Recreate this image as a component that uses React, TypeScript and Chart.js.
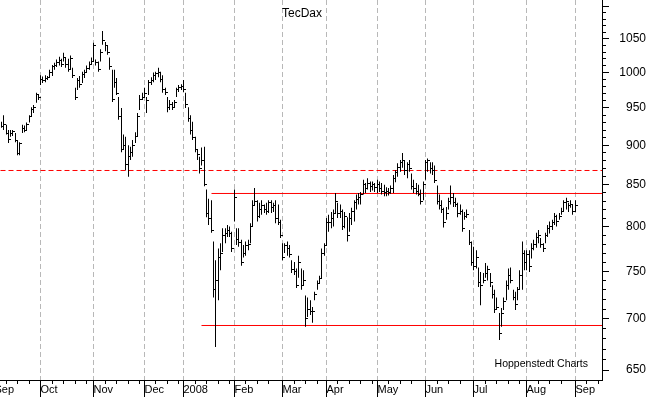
import React, { useEffect, useRef } from 'react';
import { Chart, registerables, LinearScale } from 'chart.js';

Chart.register(...registerables);

// Linear scale whose pixels fall on device-pixel centres (crisp 1px bars)
class SnapLinearScale extends (LinearScale as any) {
  static id = 'snapLinear';
  static defaults = (LinearScale as any).defaults;
  getPixelForValue(value: number) {
    const p = super.getPixelForValue(value);
    return Math.round(p - 0.5) + 0.5;
  }
}
Chart.register(SnapLinearScale as any);

// ---- data ----
const titleText = 'TecDax';
const sourceText = 'Hoppenstedt Charts';

// trading-day index of the first session of each month (Sep 2007 = day 0)
const monthLabels = ['Sep', 'Oct', 'Nov', 'Dec', '2008', 'Feb', 'Mar', 'Apr', 'May', 'Jun', 'Jul', 'Aug', 'Sep'];
const monthStartDays = [0, 20, 43, 65, 82, 104, 125, 144, 166, 187, 208, 231, 252];

const yTickValues = [650, 700, 750, 800, 850, 900, 950, 1000, 1050, 1100];

const firstBarDay = 3;

const highs = [
  // Sep 07
  931, 940, 927, 920, 920, 920, 916, 907, 904, 927, 926, 930, 940, 951, 954, 971, 969,
  // Oct
  996, 994, 996, 995, 1004, 1011, 1014, 1019, 1023, 1020, 1029, 1022, 1020, 1025, 1007, 978, 992, 995, 1001, 1004, 1010, 1016, 1022,
  // Nov
  1044, 1019, 1016, 1034, 1062, 1045, 1039, 1022, 1004, 1004, 992, 965, 950, 914, 911, 900, 898, 907, 917, 943, 968, 971,
  // Dec
  978, 965, 989, 993, 1000, 1001, 1007, 1001, 996, 978, 965, 961, 958, 961, 978, 982, 983,
  // Jan 08
  989, 971, 951, 940, 931, 911, 894, 885, 897, 898, 844, 833, 831, 783, 762, 775, 781, 798, 798, 802, 800, 794,
  // Feb
  844, 798, 798, 785, 779, 783, 785, 804, 831, 846, 831, 828, 831, 826, 828, 831, 831, 828, 831, 826, 808,
  // Mar
  781, 781, 783, 779, 762, 760, 753, 767, 753, 751, 724, 722, 719, 712, 728, 740, 745, 775, 781,
  // Apr
  810, 814, 817, 820, 840, 828, 826, 820, 817, 811, 816, 822, 831, 838, 840, 841, 856, 852, 858, 854, 854, 852,
  // May
  856, 854, 852, 850, 847, 846, 849, 862, 868, 877, 881, 890, 881, 878, 881, 864, 856, 852, 850, 844, 854,
  // Jun
  881, 883, 878, 878, 874, 849, 838, 831, 822, 823, 834, 849, 840, 834, 828, 826, 820, 817, 820, 796, 783,
  // Jul
  777, 773, 754, 749, 748, 759, 756, 748, 735, 730, 722, 706, 711, 722, 740, 753, 754, 730, 728, 733, 751, 783, 773,
  // Aug
  773, 773, 781, 785, 793, 796, 787, 781, 793, 802, 806, 808, 816, 814, 816, 822, 831, 834, 828, 831, 826,
  // Sep 08
  831,
];

const lows = [
  923, 920, 914, 903, 911, 912, 904, 887, 887, 916, 917, 920, 930, 938, 943, 957, 961,
  982, 985, 986, 989, 992, 995, 1004, 1008, 1010, 1008, 1016, 1007, 1001, 1004, 992, 961, 975, 978, 985, 992, 1000, 1004, 1011,
  1016, 1010, 1001, 1016, 1041, 1031, 1026, 1004, 958, 978, 968, 934, 891, 894, 868, 860, 881, 885, 903, 911, 947, 961,
  964, 943, 968, 982, 986, 989, 993, 986, 971, 968, 944, 947, 947, 950, 965, 972, 975,
  972, 950, 931, 914, 907, 891, 881, 864, 874, 848, 811, 802, 793, 722, 672, 719, 751, 771, 781, 788, 788, 771,
  806, 779, 777, 756, 765, 767, 773, 781, 800, 825, 806, 810, 814, 816, 814, 816, 816, 817, 804, 802, 787,
  762, 770, 767, 765, 748, 746, 732, 743, 730, 735, 692, 702, 704, 696, 719, 730, 737, 742, 767,
  779, 794, 798, 800, 816, 810, 810, 796, 798, 783, 794, 802, 806, 820, 826, 826, 838, 840, 844, 841, 843, 841,
  840, 841, 838, 836, 836, 837, 839, 840, 853, 860, 866, 871, 862, 858, 866, 844, 840, 838, 836, 826, 831,
  856, 866, 864, 862, 852, 826, 820, 816, 799, 808, 820, 826, 823, 823, 811, 814, 794, 808, 810, 779, 756,
  751, 753, 733, 714, 737, 743, 740, 733, 721, 706, 709, 679, 692, 709, 719, 730, 737, 719, 709, 719, 730, 730, 751,
  751, 749, 764, 773, 776, 781, 776, 771, 781, 788, 792, 796, 802, 800, 808, 814, 817, 820, 817, 822, 814,
  817,
];

const closes = [
  925, 928, 916, 908, 915, 918, 906, 889, 902, 922, 920, 928, 938, 948, 950, 968, 965,
  990, 988, 992, 993, 1000, 1008, 1010, 1015, 1018, 1012, 1022, 1012, 1005, 1020, 995, 965, 988, 983, 997, 1000, 1006, 1012, 1016,
  1040, 1014, 1005, 1030, 1048, 1040, 1030, 1008, 962, 985, 970, 938, 895, 900, 875, 885, 890, 900, 912, 938, 962, 965,
  970, 960, 985, 988, 995, 998, 1000, 990, 975, 972, 950, 955, 950, 958, 975, 978, 980,
  975, 955, 935, 920, 910, 895, 888, 870, 880, 850, 815, 810, 795, 730, 740, 765, 770, 790, 792, 795, 792, 775,
  835, 785, 782, 760, 770, 778, 780, 800, 825, 830, 812, 820, 825, 820, 818, 828, 822, 825, 810, 805, 790,
  765, 778, 775, 768, 752, 750, 735, 760, 735, 740, 700, 710, 708, 708, 725, 737, 742, 770, 778,
  805, 805, 810, 815, 830, 815, 818, 800, 812, 790, 810, 818, 828, 832, 835, 838, 850, 845, 852, 848, 850, 846,
  850, 845, 842, 840, 842, 840, 845, 858, 865, 872, 878, 880, 868, 875, 870, 848, 845, 842, 838, 830, 850,
  878, 880, 870, 868, 855, 830, 825, 820, 805, 815, 830, 835, 828, 826, 815, 818, 798, 812, 814, 782, 760,
  755, 765, 738, 735, 740, 748, 752, 738, 725, 710, 712, 685, 705, 718, 735, 745, 740, 722, 715, 730, 745, 770, 760,
  768, 755, 775, 780, 788, 790, 780, 775, 790, 798, 800, 805, 812, 806, 812, 818, 828, 830, 825, 826, 818,
  825,
];

// horizontal reference levels
const resistanceLevel = 867.7;
const upperLevel = 839.3;
const lowerLevel = 693.3;
const upperLevelStartDay = 94;
const lowerLevelStartDay = 90;

// ---- axis ranges ----
const xMin = 2.36;
const xMax = 263.6;
const yMin = 640.7;
const yMax = 1110.6;

const FONT = '"Liberation Sans", Arial, sans-serif';

const decorations = {
  id: 'decorations',
  afterDraw(chart: any) {
    const { ctx, chartArea } = chart;
    const x = chart.scales.x;
    const y = chart.scales.y;
    ctx.save();
    ctx.strokeStyle = '#000';
    ctx.lineWidth = 1;
    ctx.beginPath();
    // minor y ticks every 10
    for (let v = 650; v <= 1100; v += 10) {
      if (v % 50 === 0) continue;
      const py = Math.round(y.getPixelForValue(v) - 0.5) + 0.5;
      ctx.moveTo(chartArea.right, py);
      ctx.lineTo(chartArea.right + 4, py);
    }
    // weekly x ticks (every 5 sessions)
    for (let m = 0; m < monthStartDays.length; m++) {
      const start = monthStartDays[m];
      const limit = m + 1 < monthStartDays.length ? monthStartDays[m + 1] - 2 : xMax;
      for (let d = start + 5; d <= limit; d += 5) {
        const px = x.getPixelForValue(d);
        if (px < chartArea.left || px > chartArea.right) continue;
        ctx.moveTo(px, chartArea.bottom);
        ctx.lineTo(px, chartArea.bottom + 4);
      }
    }
    ctx.stroke();
    ctx.fillStyle = '#000';
    ctx.font = '12px ' + FONT;
    ctx.textAlign = 'center';
    ctx.textBaseline = 'alphabetic';
    ctx.fillText(titleText, 302, 16.5);
    ctx.font = '10.5px ' + FONT;
    ctx.textAlign = 'right';
    ctx.fillText(sourceText, 588, 367);
    ctx.restore();
  },
};

export default function App() {
  const canvasRef = useRef<HTMLCanvasElement | null>(null);

  useEffect(() => {
    const canvas = canvasRef.current;
    if (!canvas) return;

    const tick = document.createElement('canvas');
    tick.width = 5;
    tick.height = 1;
    const tctx = tick.getContext('2d');
    if (tctx) {
      tctx.fillStyle = '#000';
      tctx.fillRect(3, 0, 2, 1);
    }

    const bars = highs.map((h, i) => ({ x: firstBarDay + i, y: [lows[i], h] }));
    const closeMarks = closes.map((c, i) => ({ x: firstBarDay + i, y: c }));

    const chart = new Chart(canvas, {
      type: 'bar',
      data: {
        datasets: [
          {
            type: 'line',
            data: [{ x: xMin, y: resistanceLevel }, { x: xMax, y: resistanceLevel }],
            borderColor: '#ff0000',
            borderWidth: 1,
            borderDash: [5, 3],
            pointRadius: 0,
            pointHoverRadius: 0,
            order: 5,
          } as any,
          {
            type: 'line',
            data: [{ x: upperLevelStartDay, y: upperLevel }, { x: xMax, y: upperLevel }],
            borderColor: '#ff0000',
            borderWidth: 1,
            pointRadius: 0,
            pointHoverRadius: 0,
            order: 4,
          } as any,
          {
            type: 'line',
            data: [{ x: lowerLevelStartDay, y: lowerLevel }, { x: xMax, y: lowerLevel }],
            borderColor: '#ff0000',
            borderWidth: 1,
            pointRadius: 0,
            pointHoverRadius: 0,
            order: 3,
          } as any,
          {
            type: 'bar',
            data: bars as any,
            backgroundColor: '#000',
            borderWidth: 0,
            barThickness: 1,
            inflateAmount: 0,
            order: 1,
          } as any,
          {
            type: 'line',
            data: closeMarks as any,
            showLine: false,
            pointStyle: tick,
            pointRadius: 1,
            pointHoverRadius: 0,
            pointBorderWidth: 0,
            order: 0,
          } as any,
        ],
      },
      options: {
        animation: false,
        responsive: true,
        maintainAspectRatio: false,
        devicePixelRatio: 1,
        events: [],
        layout: { autoPadding: false, padding: { left: 0, top: 0, right: 4, bottom: 0 } },
        plugins: {
          legend: { display: false },
          tooltip: { enabled: false },
          title: { display: false },
        },
        scales: {
          x: {
            type: 'snapLinear',
            min: xMin,
            max: xMax,
            offset: false,
            afterBuildTicks: (scale: any) => {
              scale.ticks = monthStartDays.map((v) => ({ value: v }));
            },
            afterFit: (scale: any) => {
              scale.height = 18;
              scale.paddingLeft = 0;
              scale.paddingRight = 0;
            },
            ticks: {
              autoSkip: false,
              maxRotation: 0,
              minRotation: 0,
              align: 'start',
              padding: -14,
              color: '#000',
              font: { family: FONT, size: 11 },
              callback: (v: any) => {
                const i = monthStartDays.indexOf(Number(v));
                return i >= 0 ? monthLabels[i] : '';
              },
            },
            grid: {
              offset: false,
              color: '#b8b8b8',
              lineWidth: 1,
              drawOnChartArea: true,
              drawTicks: true,
              tickLength: 17,
              tickColor: '#000',
              tickWidth: 1,
              tickBorderDash: [],
            },
            border: { display: true, color: '#000', width: 1, dash: [5, 3] },
          } as any,
          y: {
            type: 'logarithmic',
            position: 'right',
            min: yMin,
            max: yMax,
            afterBuildTicks: (scale: any) => {
              scale.ticks = yTickValues.map((v) => ({ value: v }));
            },
            afterFit: (scale: any) => {
              scale.width = 44;
              scale.paddingTop = 0;
              scale.paddingBottom = 0;
            },
            ticks: {
              autoSkip: false,
              padding: 11,
              crossAlign: 'far',
              color: '#000',
              font: { family: FONT, size: 12 },
              callback: (v: any) => (Number(v) >= 1100 ? '' : String(v)),
            },
            grid: {
              drawOnChartArea: false,
              drawTicks: true,
              tickLength: 7,
              tickColor: '#000',
              tickWidth: 1,
            },
            border: { display: true, color: '#000', width: 1 },
          } as any,
        },
      },
      plugins: [decorations],
    });

    return () => chart.destroy();
  }, []);

  return (
    <div style={{ position: 'absolute', left: 0, top: 0, width: 650, height: 398, background: '#fff' }}>
      <canvas ref={canvasRef} />
    </div>
  );
}
